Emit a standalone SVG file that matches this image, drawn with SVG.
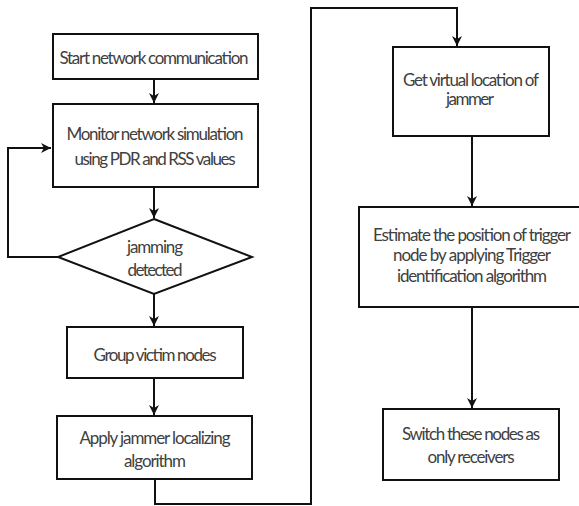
<svg xmlns="http://www.w3.org/2000/svg" width="579" height="506" viewBox="0 0 579 506">
<style>
.box{fill:#fff;stroke:#111;stroke-width:2}
.t{font-family:Lato,"Liberation Sans",sans-serif;font-size:17px;fill:#404040;text-anchor:middle}
.c{fill:none;stroke:#111;stroke-width:2}
</style>
<defs>
<marker id="ah" viewBox="0 0 10 10" refX="10" refY="5" markerWidth="5" markerHeight="5" orient="auto" markerUnits="strokeWidth">
<path d="M0,0 L10,5 L0,10 L3,5 Z" fill="#111"/>
</marker>
</defs>
<rect width="579" height="506" fill="#fff"/>
<g id="connectors">
<path class="c" d="M154,79 V103" marker-end="url(#ah)"/>
<path class="c" d="M154,187 V218" marker-end="url(#ah)"/>
<path class="c" d="M58,257 H8 V148 H51" marker-end="url(#ah)"/>
<path class="c" d="M154,294 V326" marker-end="url(#ah)"/>
<path class="c" d="M154,378 V415" marker-end="url(#ah)"/>
<path class="c" d="M155,479 V504 H311 V8 H457 V46" marker-end="url(#ah)"/>
<path class="c" d="M472,136 V206" marker-end="url(#ah)"/>
<path class="c" d="M472,307 V408" marker-end="url(#ah)"/>
</g>
<g id="start">
<rect class="box" x="53" y="34" width="205" height="45"/>
<text class="t" x="154" y="64" textLength="189">Start network communication</text>
</g>
<g id="monitor">
<rect class="box" x="53" y="104" width="205" height="83"/>
<text class="t" x="155" y="140" textLength="177">Monitor network simulation</text>
<text class="t" x="155" y="165" textLength="161">using PDR and RSS values</text>
</g>
<g id="decision">
<polygon class="box" points="154,219 252,257 154,294 58,257"/>
<text class="t" x="155" y="253" textLength="56">jamming</text>
<text class="t" x="155" y="276" textLength="55">detected</text>
</g>
<g id="group">
<rect class="box" x="67" y="327" width="176" height="51"/>
<text class="t" x="155" y="361" textLength="123">Group victim nodes</text>
</g>
<g id="apply">
<rect class="box" x="57" y="416" width="195" height="63"/>
<text class="t" x="155" y="444" textLength="151">Apply jammer localizing</text>
<text class="t" x="155" y="467" textLength="62">algorithm</text>
</g>
<g id="virtual">
<rect class="box" x="393" y="47" width="156" height="89"/>
<text class="t" x="471" y="86" textLength="136">Get virtual location of</text>
<text class="t" x="470" y="105" textLength="48">jammer</text>
</g>
<g id="estimate">
<rect class="box" x="359" y="207" width="226" height="100"/>
<text class="t" x="472" y="241" textLength="198">Estimate the position of trigger</text>
<text class="t" x="472" y="261" textLength="158">node by applying Trigger</text>
<text class="t" x="472" y="282" textLength="150">identification algorithm</text>
</g>
<g id="switch">
<rect class="box" x="383" y="409" width="176" height="71"/>
<text class="t" x="471" y="440" textLength="138">Switch these nodes as</text>
<text class="t" x="471" y="463" textLength="87">only receivers</text>
</g>
</svg>
